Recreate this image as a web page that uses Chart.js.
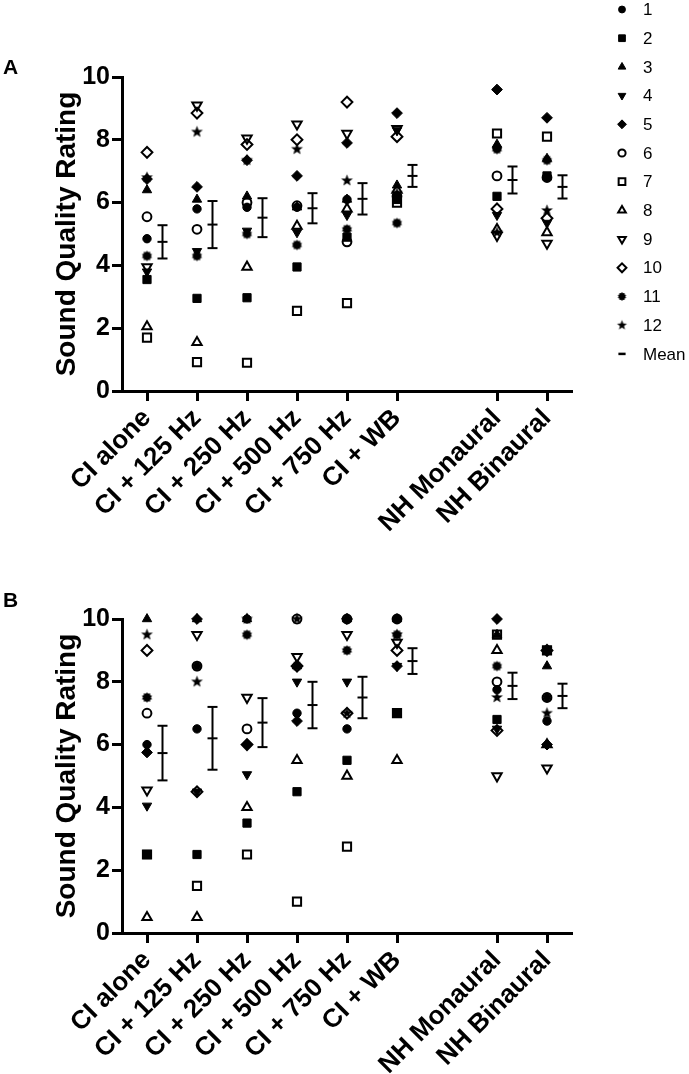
<!DOCTYPE html>
<html>
<head>
<meta charset="utf-8">
<script src="https://cdn.jsdelivr.net/npm/chart.js@4.4.1/dist/chart.umd.min.js"></script>
<style>
  html, body { margin: 0; padding: 0; background: #fff; }
  #wrap { position: relative; width: 689px; height: 1074px; overflow: hidden; }
  .panel { position: absolute; left: 0; width: 689px; }
  #boxA { top: 0; height: 540px; }
  #boxB { top: 540px; height: 534px; }
  .tag { position: absolute; left: 3px; font: bold 21px "Liberation Sans", Arial, sans-serif; line-height: 1; }
</style>
</head>
<body>
<div id="wrap">
  <div class="panel" id="boxA"><canvas id="chartA" width="689" height="540"></canvas></div>
  <div class="panel" id="boxB"><canvas id="chartB" width="689" height="534"></canvas></div>
  <div class="tag" style="top:56px">A</div>
  <div class="tag" style="top:589px">B</div>
</div>
<script>
/* ── data ─────────────────────────────────────── */
const conditions   = ['CI alone', 'CI + 125 Hz', 'CI + 250 Hz', 'CI + 500 Hz', 'CI + 750 Hz', 'CI + WB', 'NH Monaural', 'NH Binaural'];
const conditionPos = [0, 1, 2, 3, 4, 5, 7, 8];   // gap before the NH groups
const participants = ['1', '2', '3', '4', '5', '6', '7', '8', '9', '10', '11', '12'];

// panel A: one row per participant, one column per condition
const ratingsA = [
  [4.85, 5.80, 5.85, 5.85, 6.10, 6.20, 7.75, 6.80],
  [3.55, 2.95, 2.97, 3.95, 4.90, 6.10, 6.20, 6.85],
  [6.40, 6.10, 6.20, 5.85, 6.10, 6.55, 7.85, 7.40],
  [3.80, 4.45, 5.10, 5.05, 5.60, 8.30, 5.60, 5.35],
  [6.75, 6.50, 7.35, 6.85, 7.90, 8.85, 9.60, 8.70],
  [5.55, 5.15, 6.00, 5.90, 4.75, 6.20, 6.85, 6.80],
  [1.70, 0.92, 0.90, 2.55, 2.80, 6.00, 8.20, 8.10],
  [2.05, 1.55, 3.95, 5.25, 5.80, 6.40, 5.15, 5.05],
  [3.95, 9.10, 8.05, 8.50, 8.20, 8.35, 4.95, 4.70],
  [7.60, 8.85, 7.85, 8.00, 9.20, 8.10, 5.80, 5.50],
  [4.30, 4.30, 5.00, 4.65, 5.15, 5.35, 7.70, 7.35],
  [6.80, 8.25, 7.35, 7.70, 6.70, 6.30, 5.05, 5.75],
];
const meanA = [4.75, 5.30, 5.52, 5.82, 6.12, 6.85, 6.72, 6.50];
const semA  = [0.53, 0.75, 0.62, 0.48, 0.50, 0.35, 0.43, 0.37];

// panel B
const ratingsB = [
  [6.00, 6.50, 10.0, 7.00, 6.50, 10.0, 7.75, 6.75],
  [2.50, 2.50, 3.50, 4.50, 5.50, 7.00, 6.80, 9.00],
  [10.0, 10.0, 10.0, 8.50, 10.0, 10.0, 9.50, 8.50],
  [4.05, 4.50, 5.05, 8.00, 8.00, 8.50, 6.50, 9.00],
  [5.75, 10.0, 6.00, 6.75, 10.0, 8.50, 10.0, 6.00],
  [7.00, 8.50, 6.50, 10.0, 10.0, 10.0, 8.00, 7.50],
  [2.50, 1.50, 2.50, 1.00, 2.75, 7.00, 9.50, 9.00],
  [0.50, 0.50, 4.00, 5.50, 5.00, 5.50, 9.00, 6.00],
  [4.55, 9.50, 7.50, 8.80, 9.50, 9.25, 5.00, 5.25],
  [9.00, 4.50, 6.00, 8.50, 7.00, 9.00, 6.45, 9.00],
  [7.50, 8.50, 9.50, 8.50, 9.00, 9.50, 8.50, 7.50],
  [9.50, 8.00, 10.0, 10.0, 7.00, 9.50, 7.50, 7.00],
];
const meanB = [5.73, 6.20, 6.70, 7.26, 7.50, 8.66, 7.87, 7.55];
const semB  = [0.87, 1.00, 0.78, 0.74, 0.66, 0.41, 0.42, 0.39];

const yTicks = [0, 2, 4, 6, 8, 10];

/* ── symbols (Prism style) ────────────────────── */
function starCanvas(points, outer, inner) {
  const s = Math.ceil(outer * 2) + 2;
  const c = document.createElement('canvas');
  c.width = c.height = s;
  const g = c.getContext('2d');
  g.fillStyle = '#000';
  g.beginPath();
  for (let i = 0; i < points * 2; i++) {
    const r = i % 2 ? inner : outer;
    const a = -Math.PI / 2 + i * Math.PI / points;
    g.lineTo(s / 2 + r * Math.cos(a), s / 2 + r * Math.sin(a));
  }
  g.closePath();
  g.fill();
  return c;
}
const burst = starCanvas(10, 5.3, 4.0);
const star  = starCanvas(5, 6.2, 2.6);
const burstSmall = starCanvas(10, 4.4, 3.3);
const starSmall  = starCanvas(5, 5.2, 2.2);

const symbols = [
  { shape: 'circle',   r: 4.2, rot: 0,   open: false },
  { shape: 'rect',     r: 5.8, rot: 0,   open: false },
  { shape: 'triangle', r: 5.4, rot: 0,   open: false },
  { shape: 'triangle', r: 5.4, rot: 180, open: false },
  { shape: 'rectRot',  r: 5.4, rot: 0,   open: false },
  { shape: 'circle',   r: 4.4, rot: 0,   open: true  },
  { shape: 'rect',     r: 5.8, rot: 0,   open: true  },
  { shape: 'triangle', r: 5.4, rot: 0,   open: true  },
  { shape: 'triangle', r: 5.4, rot: 180, open: true  },
  { shape: 'rectRot',  r: 5.4, rot: 0,   open: true  },
  { shape: burst,      r: 5,   rot: 0,   open: false, small: burstSmall },
  { shape: star,       r: 5,   rot: 0,   open: false, small: starSmall },
];

const FONT = '"Liberation Sans", Arial, Helvetica, sans-serif';
const meanShift = 0.31;

/* ── legend drawn beside panel A ──────────────── */
const sideLegend = {
  id: 'sideLegend',
  afterDraw(chart, args, opts) {
    if (!opts.show) return;
    const ctx = chart.ctx;
    const drawPoint = Chart.helpers.drawPoint;
    ctx.save();
    ctx.font = '17px ' + FONT;
    ctx.textBaseline = 'middle';
    participants.forEach((p, i) => {
      const s = symbols[i];
      const y = 9.5 + i * 28.7;
      ctx.fillStyle = s.open ? 'rgba(0,0,0,0)' : '#000';
      ctx.strokeStyle = '#000';
      ctx.lineWidth = s.open ? 2 : 1;
      drawPoint(ctx, { pointStyle: s.small || s.shape, rotation: s.rot, radius: s.r * 0.82, borderWidth: ctx.lineWidth }, 622, y);
      ctx.fillStyle = '#000';
      ctx.fillText(p, 643, y + 1);
    });
    const ym = 9.5 + 12 * 28.7;
    ctx.lineWidth = 2.5;
    drawPoint(ctx, { pointStyle: 'line', rotation: 0, radius: 3.6, borderWidth: 2.5 }, 622, ym);
    ctx.fillText('Mean', 643, ym + 1);
    ctx.restore();
  }
};

function buildChart(id, ratings, means, sems, top, bottomSpace, withLegend) {
  const datasets = participants.map((p, i) => {
    const s = symbols[i];
    return {
      type: 'scatter',
      label: p,
      order: 20 - i,          // later participants drawn on top
      data: conditionPos.map((x, j) => ({ x, y: ratings[i][j] })),
      pointStyle: s.shape,
      pointRotation: s.rot,
      pointRadius: s.r,
      backgroundColor: s.open ? 'rgba(0,0,0,0)' : '#000',
      borderColor: '#000',
      borderWidth: s.open ? 2 : 1,
      clip: false,
    };
  });

  // error bars: lo / hi pairs split by a null
  const bars = [];
  conditionPos.forEach((x, j) => {
    bars.push({ x: x + meanShift, y: means[j] - sems[j] },
              { x: x + meanShift, y: means[j] + sems[j] },
              { x: x + meanShift, y: null });
  });
  datasets.push({
    type: 'line',
    label: 'SEM',
    order: 1,
    data: bars,
    borderColor: '#000',
    borderWidth: 2,
    pointStyle: 'line',
    pointRadius: 5,
    pointBorderWidth: 2,
    pointBorderColor: '#000',
    spanGaps: false,
    clip: false,
  });
  datasets.push({
    type: 'scatter',
    label: 'Mean',
    order: 0,
    data: conditionPos.map((x, j) => ({ x: x + meanShift, y: means[j] })),
    pointStyle: 'line',
    pointRadius: 5,
    borderColor: '#000',
    borderWidth: 2,
    clip: false,
  });

  return new Chart(document.getElementById(id), {
    type: 'scatter',
    data: { datasets },
    plugins: [sideLegend],
    options: {
      responsive: false,
      animation: false,
      events: [],
      layout: { padding: { left: 50, right: 117, top: top, bottom: 0 } },
      plugins: {
        legend: { display: false },
        tooltip: { enabled: false },
        sideLegend: { show: withLegend },
      },
      scales: {
        x: {
          type: 'linear',
          min: -0.5,
          max: 8.5,
          afterBuildTicks: s => { s.ticks = conditionPos.map(v => ({ value: v })); },
          afterFit: s => { s.height = bottomSpace; },
          border: { display: true, color: '#000', width: 3 },
          grid: { drawOnChartArea: false, drawTicks: true, tickLength: 10, tickWidth: 3, tickColor: '#000' },
          ticks: {
            autoSkip: false,
            minRotation: 45,
            maxRotation: 45,
            padding: 2,
            color: '#000',
            font: { family: FONT, size: 26, weight: 'bold' },
            callback: v => conditions[conditionPos.indexOf(v)] ?? '',
          },
        },
        y: {
          min: 0,
          max: 10,
          afterFit: s => { s.width = 72; },
          border: { display: true, color: '#000', width: 3 },
          grid: { drawOnChartArea: false, drawTicks: true, tickLength: 10, tickWidth: 3, tickColor: '#000' },
          ticks: {
            stepSize: 1,
            padding: 2,
            color: '#000',
            font: { family: FONT, size: 25, weight: 'bold' },
            callback: v => yTicks.includes(v) ? String(v) : '',
          },
          title: {
            display: true,
            text: 'Sound Quality Rating',
            color: '#000',
            padding: { top: 0, bottom: 0 },
            font: { family: FONT, size: 28, weight: 'bold' },
          },
        },
      },
    },
  });
}

buildChart('chartA', ratingsA, meanA, semA, 77, 540 - 391, true);
buildChart('chartB', ratingsB, meanB, semB, 79, 534 - 393, false);
</script>
</body>
</html>
